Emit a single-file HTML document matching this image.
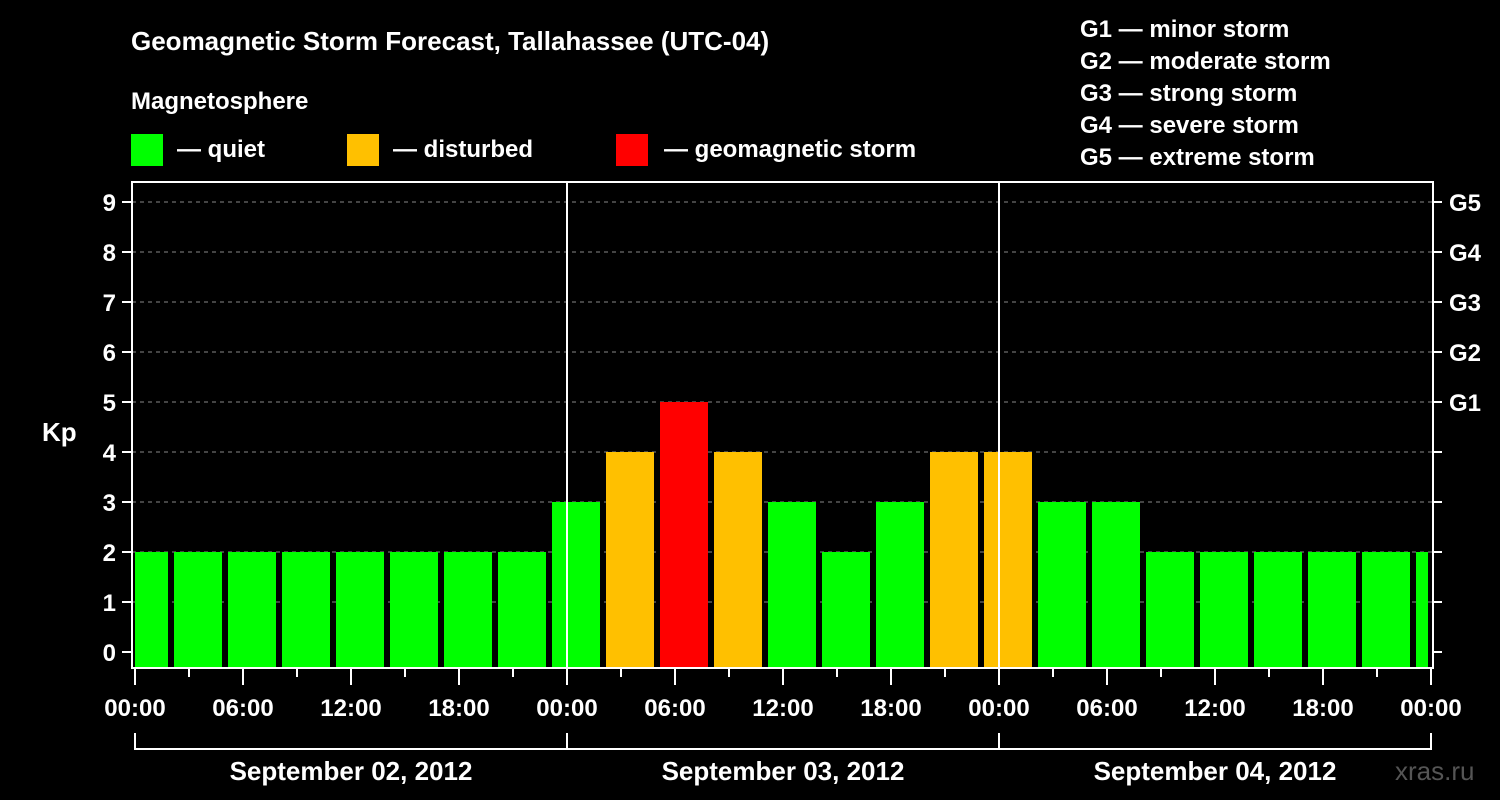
<!DOCTYPE html>
<html><head><meta charset="utf-8"><style>
body{margin:0;background:#000;}
svg{display:block;font-family:"Liberation Sans",Arial,sans-serif;font-weight:bold;}
</style></head><body>
<svg id="c" width="1500" height="800" viewBox="0 0 1500 800">
<rect width="1500" height="800" fill="#000"/>
<text x="131" y="50" fill="#fff" font-size="26">Geomagnetic Storm Forecast, Tallahassee (UTC-04)</text>
<text x="131" y="109" fill="#fff" font-size="24">Magnetosphere</text>
<g><rect x="131" y="134" width="32" height="32" fill="#00ff00"/><text x="177" y="157" fill="#fff" font-size="24">— quiet</text></g>
<g><rect x="347" y="134" width="32" height="32" fill="#ffc000"/><text x="393" y="157" fill="#fff" font-size="24">— disturbed</text></g>
<g><rect x="616" y="134" width="32" height="32" fill="#ff0000"/><text x="664" y="157" fill="#fff" font-size="24">— geomagnetic storm</text></g>
<g fill="#fff" font-size="24">
<text x="1080" y="37">G1 — minor storm</text><text x="1080" y="69">G2 — moderate storm</text><text x="1080" y="101">G3 — strong storm</text><text x="1080" y="133">G4 — severe storm</text><text x="1080" y="165">G5 — extreme storm</text>
</g>
<text x="42" y="441" fill="#fff" font-size="26">Kp</text>
<text x="1395" y="780" fill="#555" font-size="26" font-weight="normal">xras.ru</text>
<g id="grid"></g><g id="bars"></g><g id="axes"></g>
</svg>
<script>
const kpValues=[2,2,2,2,2,2,2,2,3,4,5,4,3,2,3,4,4,3,3,2,2,2,2,2,2];
const slotStartHours=-1;
const yTicks=[0,1,2,3,4,5,6,7,8,9];
const gLabels=["G1","G2","G3","G4","G5"];
const xTickLabels=["00:00","06:00","12:00","18:00","00:00","06:00","12:00","18:00","00:00","06:00","12:00","18:00","00:00"];
const dayLabels=["September 02, 2012","September 03, 2012","September 04, 2012"];
const NS="http://www.w3.org/2000/svg";
const L=132,R=1433,T=182,B=668,X0=135;
const x=h=>X0+h*18, y=v=>652-v*50;
function mk(p,t,a){const e=document.createElementNS(NS,t);for(const k in a)e.setAttribute(k,a[k]);p.appendChild(e);return e;}
const grid=document.getElementById('grid'),bars=document.getElementById('bars'),axes=document.getElementById('axes');
yTicks.forEach(v=>{if(v>0){const g=mk(grid,'line',{x1:L,x2:R,y1:y(v),y2:y(v),stroke:'#888','stroke-dasharray':'4,4','stroke-width':1});

}});
kpValues.forEach((v,i)=>{const h0=slotStartHours+i*3;let x1=x(h0)+3,x2=x(h0+3)-3;x1=Math.max(x1,L+3);x2=Math.min(x2,R-5);
const col=v>=5?'#ff0000':v>=4?'#ffc000':'#00ff00';
const r=mk(bars,'rect',{x:x1,y:y(v),width:x2-x1,height:B-1-y(v),fill:col});

});
[1,2].forEach(d=>mk(axes,'line',{x1:x(d*24),x2:x(d*24),y1:T,y2:B,stroke:'#fff','stroke-width':2}));
mk(axes,'rect',{x:L,y:T,width:R-L,height:B-T,fill:'none',stroke:'#fff','stroke-width':2});
yTicks.forEach(v=>{mk(axes,'line',{x1:122,x2:L,y1:y(v),y2:y(v),stroke:'#fff','stroke-width':2});
mk(axes,'line',{x1:R,x2:1442,y1:y(v),y2:y(v),stroke:'#fff','stroke-width':2});
const t=mk(axes,'text',{x:116,y:y(v)+9,fill:'#fff','font-size':24,'text-anchor':'end'});t.textContent=v;

});
gLabels.forEach((g,i)=>{const t=mk(axes,'text',{x:1449,y:y(5+i)+9,fill:'#fff','font-size':24});t.textContent=g;

});
for(let h=0;h<=72;h+=3){const maj=h%6==0;mk(axes,'line',{x1:x(h),x2:x(h),y1:B,y2:B+(maj?17:9),stroke:'#fff','stroke-width':2});}
xTickLabels.forEach((s,i)=>{const t=mk(axes,'text',{x:x(i*6),y:716,fill:'#fff','font-size':24,'text-anchor':'middle'});t.textContent=s;

});
mk(axes,'line',{x1:x(0),x2:x(72),y1:749,y2:749,stroke:'#fff','stroke-width':2});
for(let d=0;d<=3;d++)mk(axes,'line',{x1:x(d*24),x2:x(d*24),y1:733,y2:750,stroke:'#fff','stroke-width':2});
dayLabels.forEach((s,i)=>{const t=mk(axes,'text',{x:x(i*24+12),y:780,fill:'#fff','font-size':26,'text-anchor':'middle'});t.textContent=s;

});
</script>
</body></html>
